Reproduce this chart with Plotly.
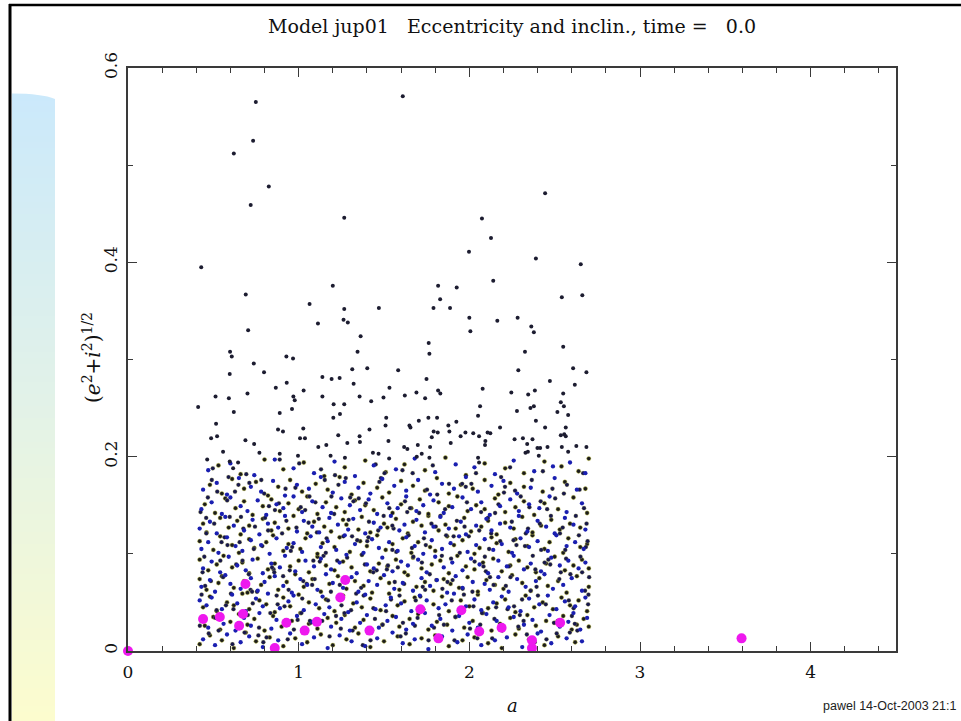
import plotly.graph_objects as go

# ---------------- data ----------------
# sparse small bodies above the dense cloud
sparse_a = [0.749, 1.61, 0.733, 0.62, 0.825, 0.719, 1.267, 1.998, 0.429, 0.690, 1.20, 1.064, 1.47, 1.817, 1.926,
            1.829, 1.79, 1.887, 1.267, 2.444, 2.074, 2.127, 2.39, 2.653, 2.14, 2.542, 2.662, 2.0, 2.283,
            1.113, 1.263, 1.288, 0.704, 1.363, 1.762, 1.766, 0.598, 0.608, 1.345, 0.928, 0.967, 0.737, 0.797,
            0.596, 1.314, 1.402, 1.583, 1.139, 1.193, 1.240, 1.749, 0.930, 1.322, 0.866, 1.029, 1.532, 1.817,
            0.513, 0.591, 0.70, 0.969, 0.977, 1.139, 1.357, 1.425, 1.497, 1.622, 1.69, 1.741, 0.411, 1.205,
            1.267, 0.62, 0.889, 0.961, 1.203, 1.242, 1.513, 1.509, 1.760, 1.811, 1.704, 1.649, 1.655, 0.516,
            0.879, 0.908, 1.027, 1.415, 1.791, 0.487, 0.522, 0.688, 1.008, 1.037, 1.232, 1.357, 1.359, 1.285,
            1.162, 1.115, 1.526, 1.618, 1.637, 1.698, 1.770, 0.739, 0.557, 0.77, 0.889, 0.996, 1.187, 1.271,
            1.435, 1.468, 1.53, 1.721, 1.692, 1.766, 0.464,
            2.164, 2.006, 2.363, 2.378, 2.55, 2.326, 2.287, 2.608, 2.686, 2.472, 2.618, 1.83, 2.078, 2.246,
            2.345, 2.384, 2.55, 2.063, 2.358, 2.378, 2.536, 2.554, 2.279, 2.051, 2.516, 2.579, 1.924, 2.39,
            2.444, 2.565, 1.877, 2.18, 2.107, 2.123, 1.977, 2.023, 2.057, 1.815, 1.883, 1.949, 1.78, 2.536,
            2.556, 2.565, 2.265, 2.314, 2.37, 2.094, 2.092, 1.891, 2.339, 2.458, 2.542, 2.627, 2.686, 2.399,
            2.415, 2.329, 2.343, 2.579, 2.051, 2.057, 2.407, 0.596, 0.645, 0.616]
sparse_e = [0.565, 0.571, 0.525, 0.512, 0.478, 0.459, 0.446, 0.411, 0.395, 0.367, 0.376, 0.357, 0.353, 0.376, 0.374,
            0.362, 0.353, 0.353, 0.352, 0.471, 0.445, 0.425, 0.404, 0.398, 0.381, 0.364, 0.366, 0.343, 0.343,
            0.337, 0.341, 0.338, 0.330, 0.324, 0.317, 0.306, 0.308, 0.303, 0.308, 0.303, 0.301, 0.296, 0.287,
            0.285, 0.290, 0.291, 0.289, 0.282, 0.280, 0.281, 0.280, 0.276, 0.275, 0.271, 0.268, 0.271, 0.268,
            0.262, 0.260, 0.265, 0.262, 0.258, 0.262, 0.262, 0.257, 0.261, 0.263, 0.266, 0.260, 0.251, 0.254,
            0.254, 0.246, 0.245, 0.249, 0.240, 0.244, 0.240, 0.232, 0.240, 0.240, 0.237, 0.232, 0.230, 0.234,
            0.228, 0.226, 0.229, 0.228, 0.226, 0.219, 0.221, 0.217, 0.219, 0.219, 0.222, 0.221, 0.215, 0.214,
            0.212, 0.210, 0.216, 0.210, 0.208, 0.212, 0.210, 0.213, 0.205, 0.204, 0.203, 0.201, 0.201, 0.199,
            0.204, 0.203, 0.198, 0.203, 0.200, 0.199, 0.197,
            0.340, 0.329, 0.334, 0.328, 0.313, 0.308, 0.289, 0.291, 0.287, 0.278, 0.274, 0.265, 0.270, 0.266,
            0.264, 0.268, 0.265, 0.252, 0.250, 0.252, 0.256, 0.252, 0.247, 0.242, 0.246, 0.243, 0.236, 0.237,
            0.230, 0.230, 0.232, 0.230, 0.225, 0.224, 0.225, 0.224, 0.221, 0.225, 0.226, 0.221, 0.220, 0.222,
            0.223, 0.221, 0.218, 0.219, 0.218, 0.216, 0.212, 0.214, 0.213, 0.210, 0.210, 0.211, 0.210, 0.209,
            0.209, 0.204, 0.205, 0.205, 0.199, 0.194, 0.201, 0.195, 0.194, 0.188]

# dense cloud, blue points
blue_a = [0.44, 0.51, 0.58, 0.66, 0.71, 0.79, 0.88, 0.95, 1.02, 1.09, 1.17, 1.24, 1.31, 1.39, 1.46, 1.55, 1.61, 1.68, 1.76, 1.84, 1.93, 1.99, 2.07, 2.15, 2.22, 2.31, 2.40, 2.48, 2.57, 2.66,
          0.43, 0.47, 0.53, 0.56, 0.63, 0.68, 0.72, 0.77, 0.84, 0.87, 0.93, 0.99, 1.04, 1.08, 1.15, 1.19, 1.25, 1.30, 1.36, 1.40, 1.47, 1.52, 1.57, 1.63, 1.67, 1.74, 1.78, 1.83, 1.90, 1.94, 2.00, 2.05, 2.10, 2.16, 2.20, 2.26, 2.32, 2.37, 2.42, 2.47, 2.53, 2.58, 2.61, 2.65, 2.69,
          0.42, 0.46, 0.49, 0.55, 0.61, 0.64, 0.69, 0.75, 0.79, 0.82, 0.89, 0.94, 0.97, 1.03, 1.10, 1.14, 1.18, 1.24, 1.29, 1.34, 1.39, 1.45, 1.51, 1.54, 1.60, 1.66, 1.71, 1.75, 1.82, 1.86, 1.91, 1.98, 2.03, 2.07, 2.14, 2.19, 2.23, 2.30, 2.35, 2.41, 2.46, 2.51, 2.56, 2.62, 2.68,
          0.43, 0.48, 0.51, 0.57, 0.60, 0.66, 0.72, 0.76, 0.80, 0.86, 0.91, 0.96, 1.01, 1.05, 1.11, 1.16, 1.20, 1.26, 1.31, 1.35, 1.41, 1.46, 1.50, 1.56, 1.61, 1.67, 1.72, 1.77, 1.81, 1.87, 1.92, 1.96, 2.02, 2.09, 2.12, 2.17, 2.23, 2.28, 2.33, 2.39, 2.44, 2.49, 2.55, 2.60, 2.66,
          0.44, 0.49, 0.54, 0.59, 0.64, 0.69, 0.73, 0.79, 0.84, 0.89, 0.92, 0.98, 1.04, 1.09, 1.13, 1.19, 1.24, 1.28, 1.34, 1.40, 1.44, 1.49, 1.55, 1.60, 1.64, 1.70, 1.75, 1.80, 1.85, 1.90, 1.96, 2.01, 2.06, 2.11, 2.17, 2.22, 2.26, 2.32, 2.36, 2.42, 2.48, 2.53, 2.58, 2.64, 2.68,
          0.43, 0.47, 0.53, 0.58, 0.63, 0.67, 0.72, 0.78, 0.83, 0.87, 0.93, 0.97, 1.02, 1.07, 1.13, 1.17, 1.22, 1.27, 1.33, 1.38, 1.43, 1.47, 1.53, 1.58, 1.63, 1.68, 1.73, 1.78, 1.84, 1.89, 1.94, 1.99, 2.04, 2.09, 2.14, 2.19, 2.25, 2.30, 2.35, 2.40, 2.46, 2.51, 2.57, 2.62, 2.67,
          0.42, 0.48, 0.52, 0.57, 0.62, 0.68, 0.73, 0.77, 0.82, 0.88, 0.92, 0.99, 1.03, 1.08, 1.12, 1.18, 1.23, 1.29, 1.32, 1.39, 1.44, 1.48, 1.54, 1.59, 1.62, 1.69, 1.74, 1.79, 1.83, 1.88, 1.95, 1.98, 2.04, 2.10, 2.13, 2.18, 2.24, 2.29, 2.34, 2.40, 2.45, 2.50, 2.56, 2.61, 2.68,
          0.43, 0.49, 0.55, 0.60, 0.66, 0.70, 0.76, 0.81, 0.87, 0.91, 0.97, 1.02, 1.08, 1.14, 1.19, 1.25, 1.30, 1.36, 1.41, 1.46, 1.52, 1.58, 1.63, 1.69, 1.73, 1.79, 1.85, 1.90, 1.96, 2.01, 2.07, 2.12, 2.18, 2.24, 2.29, 2.35, 2.41, 2.47, 2.57, 2.66,
          0.44, 0.52, 0.58, 0.65, 0.72, 0.78, 0.85, 0.92, 0.99, 1.06, 1.13, 1.20, 1.27, 1.35, 1.42, 1.49, 1.56, 1.63, 1.70, 1.77, 1.84, 1.91, 1.98, 2.05, 2.13, 2.20, 2.28, 2.36, 2.50, 2.63,
          0.47, 0.60, 0.74, 0.86, 0.97, 1.09, 1.21, 1.33, 1.44, 1.57, 1.68, 1.80, 1.92, 2.03, 2.15, 2.26, 2.38, 2.49, 2.59, 2.68]
blue_e = [0.012, 0.006, 0.017, 0.009, 0.015, 0.004, 0.011, 0.018, 0.007, 0.014, 0.003, 0.016, 0.010, 0.005, 0.013, 0.019, 0.008, 0.012, 0.002, 0.015, 0.009, 0.017, 0.006, 0.011, 0.014, 0.004, 0.018, 0.008, 0.013, 0.010,
          0.031, 0.024, 0.037, 0.028, 0.021, 0.034, 0.026, 0.039, 0.023, 0.032, 0.027, 0.036, 0.022, 0.030, 0.038, 0.025, 0.033, 0.021, 0.029, 0.037, 0.024, 0.031, 0.035, 0.022, 0.028, 0.039, 0.026, 0.033, 0.021, 0.036, 0.029, 0.024, 0.038, 0.031, 0.023, 0.035, 0.027, 0.032, 0.020, 0.037, 0.025, 0.030, 0.039, 0.022, 0.034,
          0.052, 0.047, 0.055, 0.043, 0.058, 0.049, 0.041, 0.054, 0.046, 0.059, 0.044, 0.051, 0.057, 0.042, 0.048, 0.056, 0.045, 0.053, 0.040, 0.050, 0.058, 0.043, 0.047, 0.055, 0.049, 0.041, 0.057, 0.052, 0.044, 0.048, 0.059, 0.046, 0.053, 0.042, 0.050, 0.056, 0.045, 0.041, 0.054, 0.048, 0.057, 0.043, 0.051, 0.046, 0.055,
          0.066, 0.073, 0.061, 0.078, 0.069, 0.064, 0.075, 0.062, 0.071, 0.077, 0.067, 0.060, 0.074, 0.068, 0.063, 0.079, 0.070, 0.065, 0.076, 0.061, 0.072, 0.068, 0.078, 0.064, 0.070, 0.062, 0.075, 0.067, 0.073, 0.060, 0.077, 0.065, 0.071, 0.069, 0.063, 0.076, 0.061, 0.074, 0.066, 0.072, 0.079, 0.064, 0.068, 0.075, 0.062,
          0.085, 0.092, 0.081, 0.097, 0.088, 0.083, 0.094, 0.080, 0.090, 0.086, 0.098, 0.082, 0.093, 0.087, 0.095, 0.084, 0.091, 0.099, 0.080, 0.089, 0.085, 0.096, 0.082, 0.092, 0.088, 0.094, 0.081, 0.097, 0.086, 0.091, 0.083, 0.095, 0.089, 0.080, 0.093, 0.087, 0.098, 0.084, 0.090, 0.082, 0.096, 0.088, 0.093, 0.085, 0.091,
          0.105, 0.112, 0.101, 0.117, 0.108, 0.103, 0.114, 0.109, 0.100, 0.116, 0.106, 0.111, 0.102, 0.118, 0.107, 0.113, 0.104, 0.119, 0.110, 0.101, 0.115, 0.106, 0.112, 0.103, 0.117, 0.108, 0.100, 0.114, 0.105, 0.111, 0.118, 0.102, 0.109, 0.115, 0.104, 0.110, 0.101, 0.116, 0.107, 0.113, 0.103, 0.119, 0.108, 0.112, 0.105,
          0.126, 0.133, 0.121, 0.138, 0.129, 0.124, 0.135, 0.120, 0.131, 0.127, 0.139, 0.123, 0.134, 0.128, 0.122, 0.137, 0.130, 0.125, 0.136, 0.121, 0.132, 0.127, 0.139, 0.124, 0.130, 0.135, 0.122, 0.128, 0.138, 0.126, 0.133, 0.120, 0.129, 0.136, 0.124, 0.131, 0.127, 0.139, 0.123, 0.134, 0.128, 0.121, 0.137, 0.130, 0.125,
          0.146, 0.153, 0.141, 0.158, 0.149, 0.144, 0.155, 0.140, 0.151, 0.147, 0.159, 0.143, 0.154, 0.148, 0.142, 0.157, 0.150, 0.145, 0.156, 0.141, 0.152, 0.147, 0.159, 0.144, 0.150, 0.155, 0.142, 0.148, 0.158, 0.146, 0.153, 0.140, 0.149, 0.156, 0.144, 0.151, 0.147, 0.159, 0.143, 0.152,
          0.166, 0.173, 0.161, 0.178, 0.169, 0.164, 0.175, 0.160, 0.171, 0.167, 0.179, 0.163, 0.174, 0.168, 0.162, 0.177, 0.170, 0.165, 0.176, 0.161, 0.172, 0.167, 0.179, 0.164, 0.170, 0.175, 0.162, 0.168, 0.178, 0.166,
          0.186, 0.193, 0.181, 0.197, 0.188, 0.183, 0.195, 0.180, 0.191, 0.187, 0.198, 0.184, 0.192, 0.189, 0.182, 0.196, 0.185, 0.190, 0.194, 0.183]

# dense cloud, black points
black_a = [0.42, 0.48, 0.55, 0.62, 0.69, 0.75, 0.83, 0.91, 0.98, 1.05, 1.13, 1.20, 1.28, 1.35, 1.42, 1.50, 1.58, 1.65, 1.72, 1.80, 1.88, 1.96, 2.03, 2.11, 2.19, 2.27, 2.35, 2.44, 2.52, 2.62,
           0.45, 0.50, 0.54, 0.60, 0.65, 0.70, 0.74, 0.80, 0.85, 0.90, 0.96, 1.01, 1.06, 1.11, 1.17, 1.22, 1.27, 1.33, 1.38, 1.43, 1.49, 1.55, 1.59, 1.65, 1.70, 1.76, 1.81, 1.87, 1.92, 1.97, 2.02, 2.08, 2.13, 2.18, 2.24, 2.29, 2.34, 2.39, 2.45, 2.50, 2.55, 2.60, 2.63, 2.67, 2.70,
           0.44, 0.48, 0.52, 0.58, 0.62, 0.67, 0.71, 0.77, 0.81, 0.86, 0.91, 0.95, 1.00, 1.06, 1.12, 1.16, 1.21, 1.26, 1.32, 1.37, 1.42, 1.48, 1.53, 1.58, 1.62, 1.68, 1.73, 1.79, 1.84, 1.88, 1.95, 2.00, 2.05, 2.11, 2.16, 2.21, 2.27, 2.33, 2.38, 2.43, 2.49, 2.54, 2.59, 2.64, 2.69,
           0.42, 0.46, 0.53, 0.55, 0.62, 0.68, 0.70, 0.78, 0.83, 0.88, 0.93, 0.98, 1.03, 1.08, 1.13, 1.18, 1.23, 1.28, 1.33, 1.38, 1.43, 1.48, 1.53, 1.59, 1.64, 1.69, 1.74, 1.79, 1.85, 1.89, 1.94, 1.99, 2.05, 2.10, 2.15, 2.20, 2.25, 2.31, 2.36, 2.41, 2.46, 2.52, 2.57, 2.63, 2.70,
           0.42, 0.47, 0.52, 0.56, 0.61, 0.67, 0.71, 0.76, 0.82, 0.86, 0.95, 1.00, 1.06, 1.11, 1.16, 1.21, 1.26, 1.31, 1.37, 1.42, 1.47, 1.52, 1.57, 1.62, 1.67, 1.72, 1.78, 1.83, 1.88, 1.93, 1.98, 2.03, 2.08, 2.14, 2.19, 2.24, 2.29, 2.34, 2.39, 2.45, 2.50, 2.56, 2.61, 2.66, 2.70,
           0.42, 0.50, 0.54, 0.61, 0.65, 0.71, 0.74, 0.81, 0.85, 0.91, 0.94, 1.01, 1.04, 1.11, 1.14, 1.21, 1.24, 1.30, 1.36, 1.40, 1.46, 1.51, 1.55, 1.61, 1.66, 1.70, 1.77, 1.80, 1.87, 1.91, 1.96, 2.03, 2.06, 2.13, 2.16, 2.23, 2.27, 2.34, 2.37, 2.44, 2.47, 2.55, 2.58, 2.65, 2.69,
           0.44, 0.46, 0.54, 0.59, 0.64, 0.66, 0.71, 0.79, 0.84, 0.86, 0.94, 0.97, 1.05, 1.09, 1.15, 1.19, 1.26, 1.28, 1.35, 1.37, 1.42, 1.50, 1.52, 1.57, 1.64, 1.67, 1.72, 1.76, 1.82, 1.86, 1.92, 1.97, 2.01, 2.07, 2.11, 2.16, 2.21, 2.26, 2.31, 2.37, 2.42, 2.48, 2.53, 2.59, 2.65,
           0.45, 0.51, 0.57, 0.63, 0.68, 0.73, 0.79, 0.84, 0.89, 0.94, 1.00, 1.05, 1.11, 1.16, 1.22, 1.27, 1.33, 1.39, 1.44, 1.49, 1.55, 1.60, 1.66, 1.71, 1.76, 1.82, 1.88, 1.93, 1.99, 2.04, 2.09, 2.15, 2.21, 2.27, 2.32, 2.38, 2.44, 2.52, 2.61, 2.69,
           0.48, 0.55, 0.61, 0.68, 0.75, 0.82, 0.88, 0.95, 1.02, 1.10, 1.17, 1.24, 1.31, 1.38, 1.46, 1.53, 1.60, 1.67, 1.74, 1.81, 1.88, 1.95, 2.02, 2.09, 2.17, 2.24, 2.32, 2.43, 2.56, 2.68,
           0.53, 0.66, 0.80, 0.91, 1.03, 1.15, 1.27, 1.39, 1.51, 1.62, 1.74, 1.86, 1.98, 2.09, 2.21, 2.32, 2.44, 2.54, 2.64, 2.70]
black_e = [0.007, 0.016, 0.011, 0.003, 0.019, 0.010, 0.014, 0.005, 0.013, 0.009, 0.017, 0.006, 0.012, 0.018, 0.004, 0.010, 0.015, 0.007, 0.013, 0.016, 0.005, 0.011, 0.014, 0.008, 0.003, 0.017, 0.012, 0.006, 0.015, 0.009,
           0.026, 0.035, 0.022, 0.030, 0.038, 0.027, 0.033, 0.021, 0.036, 0.025, 0.031, 0.039, 0.028, 0.023, 0.034, 0.029, 0.037, 0.024, 0.032, 0.021, 0.027, 0.036, 0.025, 0.033, 0.038, 0.022, 0.030, 0.027, 0.035, 0.024, 0.031, 0.039, 0.021, 0.028, 0.034, 0.023, 0.037, 0.026, 0.031, 0.029, 0.036, 0.022, 0.027, 0.033, 0.025,
           0.045, 0.056, 0.041, 0.050, 0.047, 0.059, 0.043, 0.052, 0.048, 0.040, 0.055, 0.046, 0.058, 0.050, 0.044, 0.053, 0.041, 0.057, 0.049, 0.045, 0.054, 0.042, 0.059, 0.047, 0.051, 0.055, 0.043, 0.048, 0.056, 0.041, 0.052, 0.046, 0.058, 0.044, 0.049, 0.053, 0.040, 0.057, 0.045, 0.050, 0.043, 0.055, 0.047, 0.052, 0.041,
           0.074, 0.063, 0.070, 0.077, 0.065, 0.072, 0.060, 0.068, 0.076, 0.063, 0.071, 0.079, 0.066, 0.074, 0.061, 0.069, 0.077, 0.064, 0.072, 0.067, 0.060, 0.075, 0.070, 0.063, 0.078, 0.066, 0.071, 0.062, 0.074, 0.069, 0.065, 0.076, 0.061, 0.073, 0.068, 0.064, 0.078, 0.070, 0.062, 0.075, 0.067, 0.072, 0.060, 0.077, 0.066,
           0.094, 0.083, 0.089, 0.098, 0.086, 0.091, 0.080, 0.095, 0.084, 0.090, 0.087, 0.093, 0.081, 0.097, 0.088, 0.083, 0.092, 0.086, 0.099, 0.082, 0.090, 0.087, 0.094, 0.081, 0.096, 0.085, 0.089, 0.093, 0.080, 0.098, 0.087, 0.084, 0.091, 0.095, 0.082, 0.088, 0.093, 0.086, 0.081, 0.090, 0.097, 0.083, 0.088, 0.094, 0.085,
           0.113, 0.104, 0.118, 0.109, 0.101, 0.115, 0.106, 0.112, 0.119, 0.103, 0.110, 0.105, 0.116, 0.100, 0.111, 0.107, 0.117, 0.102, 0.113, 0.108, 0.119, 0.104, 0.110, 0.116, 0.101, 0.112, 0.107, 0.103, 0.118, 0.109, 0.114, 0.100, 0.106, 0.117, 0.111, 0.102, 0.115, 0.108, 0.119, 0.105, 0.112, 0.101, 0.116, 0.107, 0.110,
           0.131, 0.122, 0.137, 0.127, 0.134, 0.120, 0.129, 0.136, 0.124, 0.132, 0.126, 0.139, 0.121, 0.133, 0.128, 0.123, 0.135, 0.130, 0.125, 0.138, 0.122, 0.131, 0.127, 0.136, 0.121, 0.133, 0.129, 0.139, 0.124, 0.130, 0.126, 0.137, 0.123, 0.128, 0.134, 0.120, 0.132, 0.126, 0.138, 0.122, 0.129, 0.135, 0.125, 0.131, 0.127,
           0.151, 0.142, 0.157, 0.147, 0.154, 0.140, 0.149, 0.156, 0.144, 0.152, 0.146, 0.159, 0.141, 0.153, 0.148, 0.143, 0.155, 0.150, 0.145, 0.158, 0.142, 0.151, 0.147, 0.156, 0.141, 0.153, 0.149, 0.159, 0.144, 0.150, 0.146, 0.157, 0.143, 0.148, 0.154, 0.140, 0.152, 0.146, 0.158, 0.142,
           0.171, 0.162, 0.177, 0.167, 0.174, 0.160, 0.169, 0.176, 0.164, 0.172, 0.166, 0.179, 0.161, 0.173, 0.168, 0.163, 0.175, 0.170, 0.165, 0.178, 0.162, 0.171, 0.167, 0.176, 0.161, 0.173, 0.169, 0.164, 0.174, 0.167,
           0.191, 0.182, 0.197, 0.187, 0.194, 0.180, 0.189, 0.196, 0.184, 0.192, 0.186, 0.199, 0.181, 0.193, 0.188, 0.183, 0.195, 0.190, 0.185, 0.198]

# dense cloud, further dark points (irregular sweeps)
navy_a = [0.425, 0.452, 0.497, 0.531, 0.548, 0.603, 0.627, 0.671, 0.702, 0.744, 0.781, 0.812, 0.853, 0.884, 0.917, 0.962, 1.003, 1.027, 1.071, 1.118, 1.146, 1.189, 1.233, 1.262, 1.307, 1.352, 1.388, 1.421, 1.466, 1.503, 1.541, 1.572, 1.618, 1.653, 1.697, 1.734, 1.768, 1.812, 1.851, 1.893,
          1.927, 1.968, 2.012, 2.047, 2.083, 2.128, 2.157, 2.203, 2.241, 2.276, 2.318, 2.352, 2.394, 2.431, 2.463, 2.512, 2.547, 2.583, 2.624, 2.661, 2.693,
          0.437, 0.468, 0.512, 0.566, 0.589, 0.641, 0.662, 0.718, 0.737, 0.793, 0.826, 0.871, 0.903, 0.948, 0.981, 1.016, 1.058, 1.094, 1.131, 1.172, 1.208, 1.247, 1.284, 1.321, 1.366, 1.402, 1.447, 1.482, 1.523, 1.556, 1.597, 1.636, 1.672, 1.713, 1.752, 1.793, 1.831, 1.872, 1.908, 1.951,
          1.986, 2.031, 2.064, 2.109, 2.142, 2.186, 2.224, 2.259, 2.301, 2.337, 2.372, 2.413, 2.448, 2.487, 2.527, 2.562, 2.601, 2.642, 2.678,
          0.421, 0.459, 0.486, 0.523, 0.574, 0.596, 0.634, 0.683, 0.711, 0.756, 0.787, 0.834, 0.861, 0.909, 0.936, 0.987, 1.021, 1.063, 1.086, 1.138, 1.164, 1.213, 1.241, 1.293, 1.316, 1.371, 1.394, 1.438, 1.473, 1.517, 1.549, 1.591, 1.628, 1.664, 1.706, 1.741, 1.786, 1.823, 1.864, 1.902,
          1.944, 1.979, 2.024, 2.058, 2.097, 2.134, 2.171, 2.214, 2.249, 2.287, 2.326, 2.366, 2.402, 2.441, 2.478, 2.518, 2.554, 2.592, 2.633, 2.672, 2.698,
          0.447, 0.473, 0.505, 0.557, 0.581, 0.618, 0.654, 0.693, 0.727, 0.768, 0.803, 0.844, 0.877, 0.923, 0.954, 0.994, 1.038, 1.079, 1.107, 1.153, 1.181, 1.226, 1.268, 1.302, 1.343, 1.381, 1.412, 1.457, 1.492, 1.531, 1.563, 1.608, 1.644, 1.686, 1.722, 1.761, 1.803, 1.842, 1.881, 1.918,
          1.961, 1.997, 2.039, 2.074, 2.116, 2.151, 2.193, 2.232, 2.268, 2.309, 2.344, 2.383, 2.421, 2.456, 2.496, 2.536, 2.572, 2.611, 2.651, 2.687,
          0.431, 0.491, 0.541, 0.612, 0.676, 0.731, 0.798, 0.857, 0.928, 0.972, 1.047, 1.098, 1.159, 1.219, 1.276, 1.337, 1.409, 1.451, 1.512, 1.581, 1.623, 1.681, 1.745, 1.807, 1.858, 1.913, 1.972, 2.018, 2.091, 2.147, 2.209, 2.262, 2.331, 2.387, 2.452, 2.503, 2.567, 2.618, 2.667, 2.702,
          0.458, 0.519, 0.583, 0.647, 0.708, 0.764, 0.821, 0.889, 0.941, 1.012, 1.066, 1.124, 1.192, 1.251, 1.313, 1.376, 1.437, 1.498, 1.549, 1.611, 1.668, 1.727, 1.778, 1.839, 1.897, 1.958, 2.004, 2.069, 2.121, 2.181, 2.239, 2.296, 2.359, 2.418, 2.474, 2.531, 2.589, 2.646, 2.683, 2.696]
navy_e = [0.143, 0.067, 0.188, 0.021, 0.112, 0.059, 0.164, 0.093, 0.037, 0.128, 0.176, 0.014, 0.084, 0.152, 0.046, 0.107, 0.193, 0.072, 0.029, 0.136, 0.098, 0.061, 0.171, 0.118, 0.042, 0.157, 0.089, 0.011, 0.124, 0.183, 0.053, 0.102, 0.069, 0.147, 0.034, 0.116, 0.079, 0.161, 0.027, 0.095,
          0.134, 0.058, 0.172, 0.013, 0.087, 0.121, 0.045, 0.163, 0.076, 0.109, 0.031, 0.148, 0.066, 0.185, 0.094, 0.018, 0.127, 0.052, 0.139, 0.081, 0.113,
          0.081, 0.158, 0.034, 0.117, 0.179, 0.026, 0.138, 0.063, 0.105, 0.009, 0.149, 0.057, 0.121, 0.083, 0.168, 0.039, 0.132, 0.074, 0.187, 0.052, 0.141, 0.023, 0.096, 0.154, 0.065, 0.113, 0.033, 0.178, 0.088, 0.126, 0.015, 0.143, 0.097, 0.056, 0.166, 0.024, 0.139, 0.071, 0.118, 0.041,
          0.153, 0.092, 0.027, 0.137, 0.068, 0.179, 0.043, 0.114, 0.159, 0.017, 0.098, 0.131, 0.048, 0.167, 0.074, 0.104, 0.036, 0.119, 0.062,
          0.026, 0.121, 0.072, 0.164, 0.047, 0.138, 0.089, 0.019, 0.173, 0.061, 0.108, 0.039, 0.145, 0.077, 0.012, 0.127, 0.054, 0.159, 0.093, 0.031, 0.116, 0.181, 0.068, 0.135, 0.021, 0.099, 0.152, 0.044, 0.174, 0.084, 0.129, 0.057, 0.018, 0.106, 0.142, 0.063, 0.191, 0.037, 0.119, 0.073,
          0.101, 0.169, 0.046, 0.124, 0.082, 0.013, 0.151, 0.067, 0.133, 0.025, 0.108, 0.176, 0.057, 0.091, 0.139, 0.031, 0.162, 0.079, 0.021, 0.147, 0.058,
          0.097, 0.018, 0.131, 0.076, 0.155, 0.043, 0.112, 0.182, 0.061, 0.024, 0.137, 0.086, 0.048, 0.167, 0.103, 0.032, 0.145, 0.068, 0.122, 0.176, 0.015, 0.093, 0.039, 0.158, 0.114, 0.057, 0.133, 0.083, 0.027, 0.147, 0.071, 0.186, 0.119, 0.052, 0.091, 0.011, 0.128, 0.064, 0.172, 0.035,
          0.064, 0.118, 0.183, 0.039, 0.105, 0.142, 0.021, 0.087, 0.165, 0.053, 0.126, 0.009, 0.104, 0.146, 0.029, 0.081, 0.171, 0.044, 0.097, 0.131,
          0.058, 0.176, 0.093, 0.007, 0.126, 0.049, 0.162, 0.081, 0.134, 0.022, 0.069, 0.153, 0.101, 0.036, 0.178, 0.059, 0.117, 0.192, 0.041, 0.086, 0.154, 0.026, 0.109, 0.073, 0.146, 0.011, 0.128, 0.061, 0.097, 0.033, 0.169, 0.046, 0.121, 0.084, 0.012, 0.157, 0.095, 0.028, 0.183, 0.076,
          0.137, 0.042, 0.109, 0.171, 0.079, 0.016, 0.124, 0.197, 0.063, 0.148, 0.031, 0.092, 0.159, 0.047, 0.118, 0.006, 0.081, 0.139, 0.104, 0.029, 0.183, 0.066, 0.131, 0.098, 0.052, 0.172, 0.023, 0.143, 0.076, 0.113, 0.189, 0.037, 0.062, 0.154, 0.089, 0.121, 0.019, 0.166, 0.107, 0.048]

# big bodies (magenta)
planet_a = [0.0, 0.44, 0.538, 0.651, 0.674, 0.688, 0.86, 0.928, 1.035, 1.107, 1.244, 1.273, 1.415, 1.713,
            1.819, 1.953, 2.058, 2.189, 2.367, 2.367, 2.532, 3.595]
planet_e = [0.0, 0.033, 0.035, 0.026, 0.038, 0.069, 0.003, 0.029, 0.021, 0.030, 0.055, 0.073, 0.021, 0.043,
            0.013, 0.042, 0.020, 0.024, 0.003, 0.011, 0.029, 0.013]

x_ticks = [0, 1, 2, 3, 4]
y_ticks = [0, 0.2, 0.4, 0.6]
y_tick_text = ["0", "0.2", "0.4", "0.6"]

# ---------------- figure ----------------
W, H = 961, 721
L, R, T, B = 128, 896, 68, 651


def px(x):
    return (x - L) / (R - L)


def py(y):
    return (B - y) / (B - T)


def pairs(a, e):
    n = min(len(a), len(e))
    return a[:n], e[:n]


fig = go.Figure()

ba, be = pairs(black_a, black_e)
fig.add_trace(go.Scatter(x=ba, y=be, mode="markers",
                         marker=dict(size=4.3, color="#1c1c1c",
                                     line=dict(width=0.7, color="rgba(215,215,80,0.6)")),
                         hoverinfo="skip", showlegend=False))
na, ne = pairs(navy_a, navy_e)
fig.add_trace(go.Scatter(x=na, y=ne, mode="markers",
                         marker=dict(size=4.3, color="#18184a",
                                     line=dict(width=0.5, color="rgba(225,225,110,0.5)")),
                         hoverinfo="skip", showlegend=False))
bla, ble = pairs(blue_a, blue_e)
fig.add_trace(go.Scatter(x=bla, y=ble, mode="markers",
                         marker=dict(size=4.3, color="#1a1fb0", line=dict(width=0)),
                         hoverinfo="skip", showlegend=False))
sa, se = pairs(sparse_a, sparse_e)
fig.add_trace(go.Scatter(x=sa, y=se, mode="markers",
                         marker=dict(size=4, color="#1c1c30", line=dict(width=0)),
                         hoverinfo="skip", showlegend=False))
pa, pe = pairs(planet_a, planet_e)
fig.add_trace(go.Scatter(x=pa, y=pe, mode="markers", cliponaxis=False,
                         marker=dict(size=10, color="#ee18ee", line=dict(width=0)),
                         hoverinfo="skip", showlegend=False))

# ---- decorative slide background: gradient strip at left + page border ----
shapes = []
stops = [(96, (203, 233, 251)), (400, (226, 242, 232)), (721, (252, 252, 206))]


def col_at(y):
    for (y0, c0), (y1, c1) in zip(stops[:-1], stops[1:]):
        if y0 <= y <= y1:
            t = (y - y0) / (y1 - y0)
            return "rgb(%d,%d,%d)" % tuple(round(c0[i] + t * (c1[i] - c0[i])) for i in range(3))
    return "rgb(%d,%d,%d)" % stops[-1][1]


step = 6
y = 100
while y < H:
    y2 = min(y + step, H)
    shapes.append(dict(type="rect", xref="paper", yref="paper", layer="below",
                       x0=px(12), x1=px(55), y0=py(y), y1=py(y2 + 0.5),
                       fillcolor=col_at((y + y2) / 2), line=dict(width=0)))
    y = y2
cap = "M %f,%f Q %f,%f %f,%f L %f,%f L %f,%f Z" % (
    px(12), py(93.5), px(42), py(93.5), px(55), py(99),
    px(55), py(101), px(12), py(101))
shapes.append(dict(type="path", xref="paper", yref="paper", layer="below", path=cap,
                   fillcolor=col_at(96), line=dict(width=0)))
shapes.append(dict(type="line", xref="paper", yref="paper", x0=px(10), x1=px(10), y0=py(4), y1=py(H),
                   line=dict(color="black", width=3)))
shapes.append(dict(type="line", xref="paper", yref="paper", x0=px(9), x1=px(W), y0=py(5), y1=py(5),
                   line=dict(color="black", width=2.5)))

serif = "DejaVu Serif"
nb = "\u00a0"
annotations = [
    dict(text="Model jup01" + nb * 2 + " Eccentricity and inclin., time =" + nb * 2 + " 0.0",
         x=0.5, y=py(26), xref="paper", yref="paper", showarrow=False,
         xanchor="center", yanchor="middle", font=dict(family=serif, size=19, color="#111")),
    dict(text="<i>a</i>", x=0.5, y=py(705), xref="paper", yref="paper", showarrow=False,
         xanchor="center", yanchor="middle", font=dict(family=serif, size=18, color="#111")),
    dict(text="(<i>e</i><sup>2</sup>+<i>i</i><sup>2</sup>)<sup>1/2</sup>", x=px(92), y=py(358),
         xref="paper", yref="paper", showarrow=False, textangle=-90,
         xanchor="center", yanchor="middle", font=dict(family=serif, size=20, color="#111")),
    dict(text="pawel 14-Oct-2003 21:1", x=px(821), y=py(706), xref="paper", yref="paper",
         showarrow=False, xanchor="left", yanchor="middle",
         font=dict(family="Liberation Sans", size=12.5, color="#222")),
]

axis_common = dict(showline=True, linecolor="#3a3a3a", linewidth=1.5, mirror="ticks",
                   ticks="inside", ticklen=9, tickwidth=1.2, tickcolor="#3a3a3a",
                   showgrid=False, zeroline=False,
                   tickfont=dict(family=serif, size=17, color="#111"))

fig.update_layout(
    width=W, height=H,
    margin=dict(l=L, r=W - R, t=T, b=H - B, pad=0),
    paper_bgcolor="white", plot_bgcolor="white",
    shapes=shapes, annotations=annotations,
    xaxis=dict(range=[0, 4.5], tickvals=x_ticks, ticktext=[str(v) for v in x_ticks],
               minor=dict(ticks="inside", ticklen=5, dtick=0.2, tick0=0, tickcolor="#3a3a3a", tickwidth=1),
               ticklabelstandoff=5, **axis_common),
    yaxis=dict(range=[0, 0.6], tickvals=y_ticks, ticktext=y_tick_text, tickangle=-90,
               minor=dict(ticks="inside", ticklen=5, dtick=0.1, tick0=0, tickcolor="#3a3a3a", tickwidth=1),
               ticklabelstandoff=2, **axis_common),
)

fig.write_html("out.html", config={"displayModeBar": False},
               post_script="document.body.style.margin='0px';")
